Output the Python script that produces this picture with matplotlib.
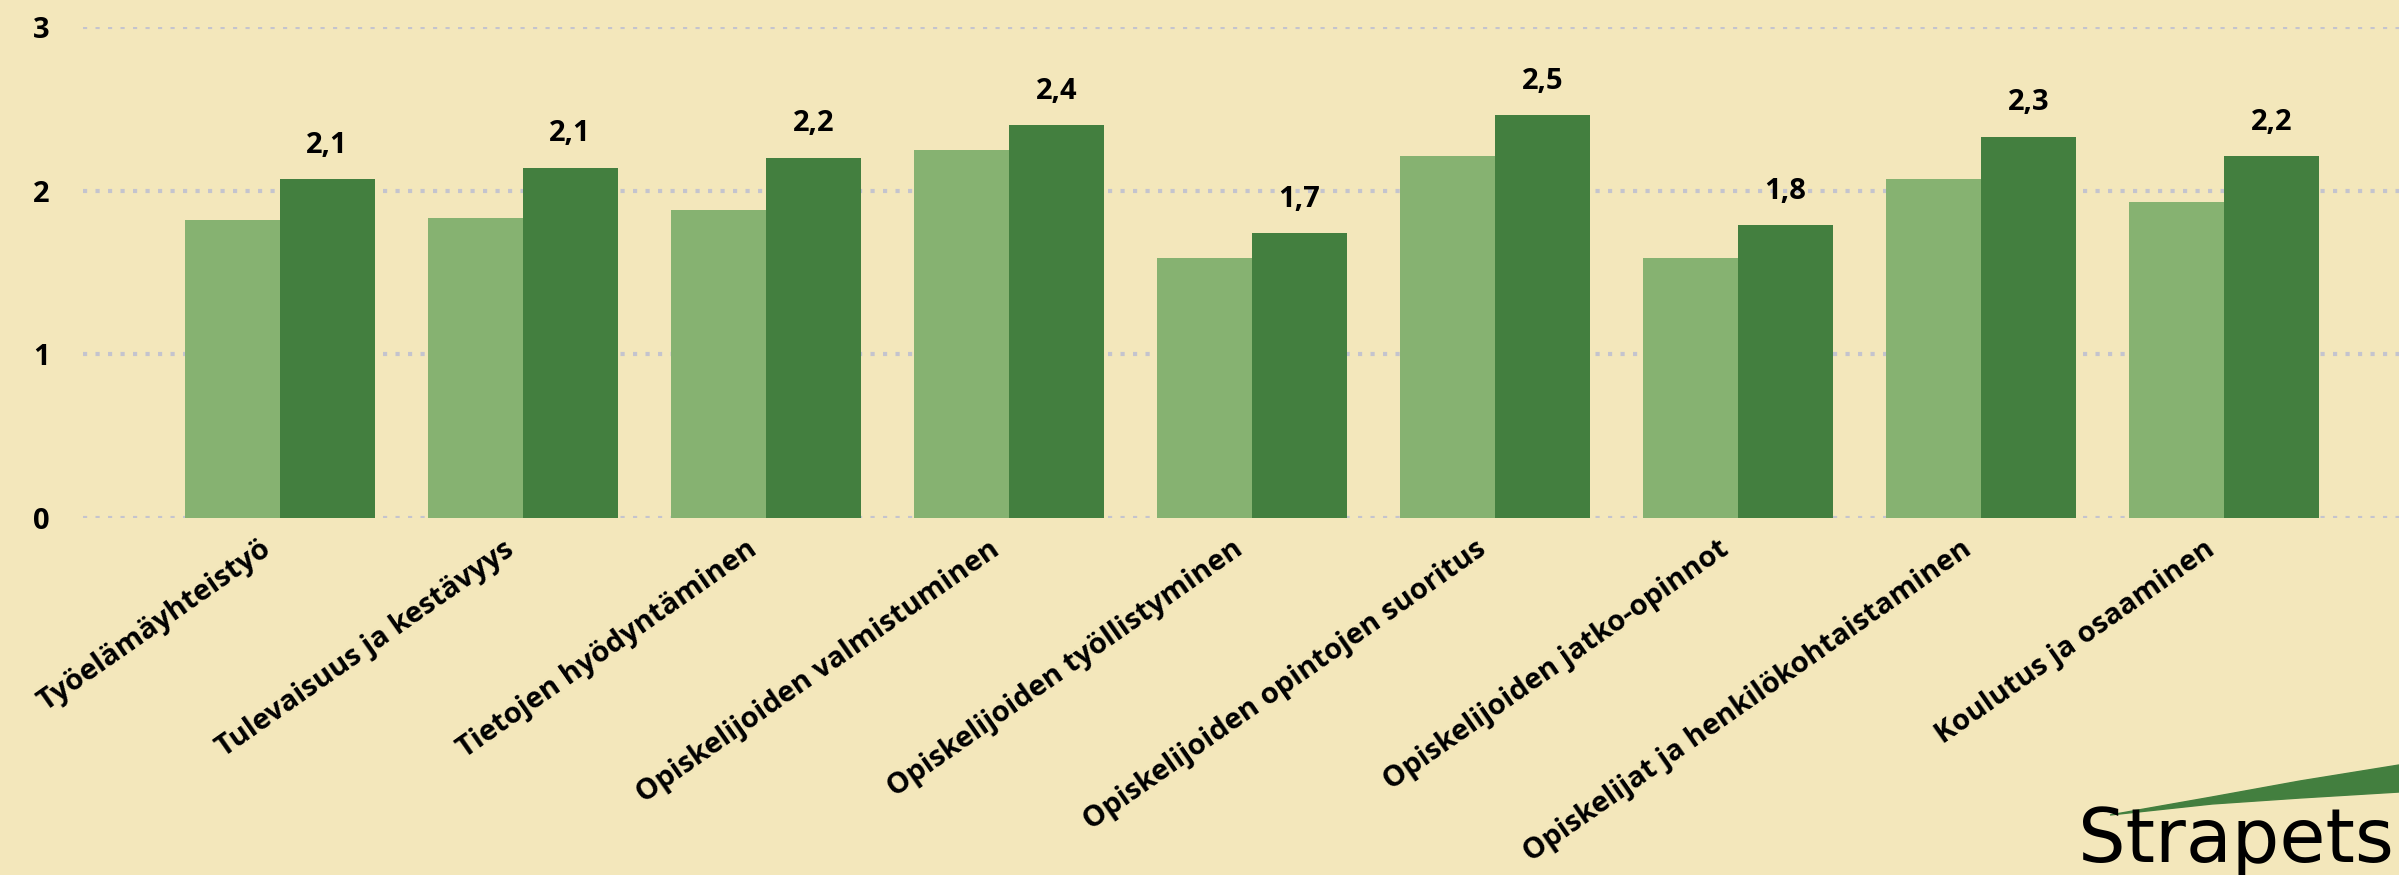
import matplotlib.pyplot as plt
import matplotlib.transforms as mtransforms
import numpy as np
from matplotlib.patches import Polygon

categories = ['Työelämäyhteistyö', 'Tulevaisuus ja kestävyys', 'Tietojen hyödyntäminen',
              'Opiskelijoiden valmistuminen', 'Opiskelijoiden työllistyminen',
              'Opiskelijoiden opintojen suoritus', 'Opiskelijoiden jatko-opinnot',
              'Opiskelijat ja henkilökohtaistaminen', 'Koulutus ja osaaminen']
light = [1.82, 1.83, 1.88, 2.25, 1.59, 2.21, 1.59, 2.07, 1.93]
dark = [2.07, 2.14, 2.20, 2.40, 1.74, 2.46, 1.79, 2.33, 2.21]
dark_labels = ['2,1', '2,1', '2,2', '2,4', '1,7', '2,5', '1,8', '2,3', '2,2']
yticks = [0, 1, 2, 3]

bg = '#f3e7bb'
plt.rcParams['font.family'] = ['Open Sans', 'DejaVu Sans']

fig = plt.figure(figsize=(23.99, 8.75), dpi=100, facecolor=bg)
ax = fig.add_axes([83 / 2399, (875 - 518) / 875, (2399 - 83) / 2399, (518 - 27) / 875])
ax.set_facecolor(bg)

x = np.arange(len(categories))
w = 0.39
ax.bar(x - w / 2, light, w, color='#86b271', zorder=3)
bars = ax.bar(x + w / 2, dark, w, color='#437f3f', zorder=3)

for b, lab in zip(bars, dark_labels):
    ax.annotate(lab, (b.get_x() + b.get_width() / 2, b.get_height()),
                xytext=(0, 14), textcoords='offset points', ha='center', va='bottom',
                fontsize=21, fontweight='bold', color='black')

ax.set_xlim(-0.81, 8.72)
ax.set_ylim(0, 3)
ax.set_yticks(yticks)
ax.set_yticklabels([str(t) for t in yticks], fontsize=21, fontweight='bold')
for t in yticks:
    ax.axhline(t, color='#c4c4ce', lw=3, linestyle=(0, (1, 2)), zorder=1)

ax.tick_params(axis='both', length=0)
ax.tick_params(axis='y', pad=24)
ax.tick_params(axis='x', pad=12)
ax.set_xticks(x)
ax.set_xticklabels(categories, rotation=35, ha='right', rotation_mode='anchor',
                   fontsize=21, fontweight='bold')
# nudge the category labels a little to the left
shift = mtransforms.ScaledTranslation(-20 / 100, 0, fig.dpi_scale_trans)
for lbl in ax.get_xticklabels():
    lbl.set_transform(lbl.get_transform() + shift)
for s in ax.spines.values():
    s.set_visible(False)

# logo in the corner
fig.text(2078 / 2399, 13 / 875, 'Strapets', fontsize=54, color='black',
         family='DejaVu Sans', va='baseline', ha='left')
pts = [(2110, 815), (2212, 797), (2300, 781), (2399, 765), (2399, 792), (2300, 798), (2212, 804)]
fig.patches.append(Polygon([(px / 2399, 1 - py / 875) for px, py in pts], closed=True,
                           transform=fig.transFigure, color='#437f3f'))

fig.savefig('out.png', dpi=100, facecolor=bg)
